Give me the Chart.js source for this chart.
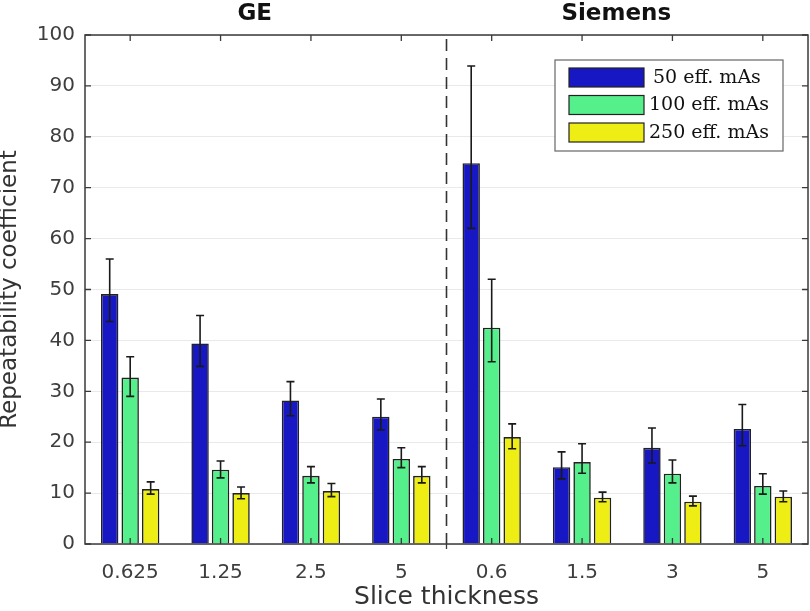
<!DOCTYPE html>
<html>
<head>
<meta charset="utf-8">
<script src="https://cdn.jsdelivr.net/npm/chart.js@4/dist/chart.umd.min.js"></script>
<style>
html,body{margin:0;padding:0;background:#fff;}
#wrap{width:810px;height:611px;position:relative;}
</style>
</head>
<body>
<div id="wrap"><canvas id="c" width="810" height="611"></canvas></div>
<script>
// ---- data ----
const categories = ['0.625', '1.25', '2.5', '5', '0.6', '1.5', '3', '5'];
const vendors = ['GE', 'Siemens'];
const seriesNames = ['50 eff. mAs', '100 eff. mAs', '250 eff. mAs'];
const series50 = [49.1, 39.4, 28.2, 25.0, 74.8, 15.1, 18.9, 22.6];
const series50Lo = [43.7, 34.9, 25.2, 22.4, 62.0, 12.8, 15.9, 19.3];
const series50Hi = [56.0, 44.9, 31.9, 28.5, 93.9, 18.1, 22.8, 27.4];
const series100 = [32.7, 14.6, 13.4, 16.7, 42.5, 16.1, 13.8, 11.4];
const series100Lo = [29.0, 13.0, 12.0, 15.0, 35.8, 13.9, 12.0, 9.8];
const series100Hi = [36.8, 16.3, 15.2, 18.9, 52.0, 19.7, 16.5, 13.8];
const series250 = [10.8, 10.0, 10.4, 13.4, 21.0, 9.1, 8.3, 9.3];
const series250Lo = [9.8, 8.9, 9.3, 12.0, 18.7, 8.3, 7.5, 8.3];
const series250Hi = [12.2, 11.2, 11.9, 15.2, 23.6, 10.2, 9.4, 10.4];
const yTicks = [0, 10, 20, 30, 40, 50, 60, 70, 80, 90, 100];

const colors = ['#1717c4', '#55ef8c', '#eeee14'];
const errLo = [series50Lo, series100Lo, series250Lo];
const errHi = [series50Hi, series100Hi, series250Hi];

const SANS = '"DejaVu Sans", sans-serif';

const errorBars = {
  id: 'errorBars',
  afterDatasetsDraw(chart) {
    const ctx = chart.ctx, ys = chart.scales.y;
    ctx.save();
    ctx.strokeStyle = '#1a1a1a';
    ctx.lineWidth = 1.6;
    chart.data.datasets.forEach((ds, d) => {
      const meta = chart.getDatasetMeta(d);
      meta.data.forEach((el, i) => {
        const x = el.x;
        const yl = ys.getPixelForValue(errLo[d][i]);
        const yh = ys.getPixelForValue(errHi[d][i]);
        ctx.beginPath();
        ctx.moveTo(x, yl); ctx.lineTo(x, yh);
        ctx.moveTo(x - 4, yl); ctx.lineTo(x + 4, yl);
        ctx.moveTo(x - 4, yh); ctx.lineTo(x + 4, yh);
        ctx.stroke();
      });
    });
    ctx.restore();
  }
};

const frame = {
  id: 'frame',
  afterDraw(chart) {
    const ctx = chart.ctx, a = chart.chartArea;
    const xs = chart.scales.x, ys = chart.scales.y;
    ctx.save();
    // dashed divider between vendors
    const xd = (xs.getPixelForValue(3) + xs.getPixelForValue(4)) / 2;
    ctx.strokeStyle = '#333';
    ctx.lineWidth = 1.6;
    ctx.setLineDash([12, 7]);
    ctx.beginPath();
    ctx.moveTo(xd, a.top + 4); ctx.lineTo(xd, a.bottom);
    ctx.stroke();
    ctx.setLineDash([]);
    // box
    ctx.strokeStyle = '#3a3a3a';
    ctx.lineWidth = 1.5;
    ctx.strokeRect(a.left, a.top, a.right - a.left, a.bottom - a.top);
    // ticks
    ctx.lineWidth = 1.3;
    ctx.beginPath();
    yTicks.forEach(v => {
      const y = ys.getPixelForValue(v);
      ctx.moveTo(a.left, y); ctx.lineTo(a.left + 6, y);
      ctx.moveTo(a.right, y); ctx.lineTo(a.right - 6, y);
    });
    categories.forEach((c, i) => {
      const x = xs.getPixelForValue(i);
      ctx.moveTo(x, a.top); ctx.lineTo(x, a.top + 6);
      ctx.moveTo(x, a.bottom); ctx.lineTo(x, a.bottom - 6);
    });
    ctx.moveTo(xd, a.bottom); ctx.lineTo(xd, a.bottom + 5);
    ctx.stroke();
    // vendor titles
    ctx.fillStyle = '#111';
    ctx.font = 'bold 23px ' + SANS;
    ctx.textAlign = 'center';
    ctx.textBaseline = 'middle';
    const g1 = (xs.getPixelForValue(0) + xs.getPixelForValue(3)) / 2 - 11;
    const g2 = (xs.getPixelForValue(4) + xs.getPixelForValue(7)) / 2 - 11;
    ctx.fillText(vendors[0], g1, 14);
    ctx.fillText(vendors[1], g2, 14);
    // legend
    const lw = 228, lh = 91;
    const lx = a.right - 25 - lw, ly = a.top + 25;
    ctx.fillStyle = '#fff';
    ctx.fillRect(lx, ly, lw, lh);
    ctx.strokeStyle = '#666';
    ctx.lineWidth = 1.2;
    ctx.strokeRect(lx, ly, lw, lh);
    ctx.font = '19px "DejaVu Serif", serif';
    ctx.textAlign = 'left';
    seriesNames.forEach((n, k) => {
      const sy = ly + 8 + k * 27.5;
      ctx.fillStyle = colors[k];
      ctx.fillRect(lx + 14, sy, 75, 19);
      ctx.strokeStyle = '#222';
      ctx.strokeRect(lx + 14, sy, 75, 19);
      ctx.fillStyle = '#111';
      ctx.fillText(n, lx + 94 + (k === 0 ? 4 : 0), sy + 10);
    });
    ctx.restore();
  }
};

new Chart(document.getElementById('c'), {
  type: 'bar',
  data: {
    labels: categories,
    datasets: [
      { label: seriesNames[0], data: series50, backgroundColor: colors[0] },
      { label: seriesNames[1], data: series100, backgroundColor: colors[1] },
      { label: seriesNames[2], data: series250, backgroundColor: colors[2] }
    ].map(d => Object.assign(d, {
      borderColor: '#222', borderWidth: 1.6,
      categoryPercentage: 0.68, barPercentage: 0.85
    }))
  },
  options: {
    responsive: false,
    animation: false,
    events: [],
    layout: { padding: { left: 0, right: 2, top: 35, bottom: 0 } },
    plugins: { legend: { display: false }, tooltip: { enabled: false } },
    scales: {
      x: {
        grid: { display: false },
        border: { display: false },
        ticks: { font: { family: SANS, size: 20 }, color: '#3e3e3e', padding: 9 },
        title: { display: true, text: 'Slice thickness', font: { family: SANS, size: 25, lineHeight: 1 }, color: '#333', padding: { top: 0, bottom: 1 } },
        afterFit(s) { s.height = 67; }
      },
      y: {
        min: 0, max: 100,
        afterBuildTicks(s) { s.ticks = yTicks.map(v => ({ value: v })); },
        grid: { color: '#e9e9e9', drawTicks: false, lineWidth: 1 },
        border: { display: false },
        ticks: { font: { family: SANS, size: 20 }, color: '#3e3e3e', padding: 10 },
        title: { display: true, text: 'Repeatability coefficient', font: { family: SANS, size: 23, lineHeight: 0.9 }, color: '#333', padding: { top: 0, bottom: 0 } },
        afterFit(s) { s.width = 85; }
      }
    }
  },
  plugins: [errorBars, frame]
});
</script>
</body>
</html>
